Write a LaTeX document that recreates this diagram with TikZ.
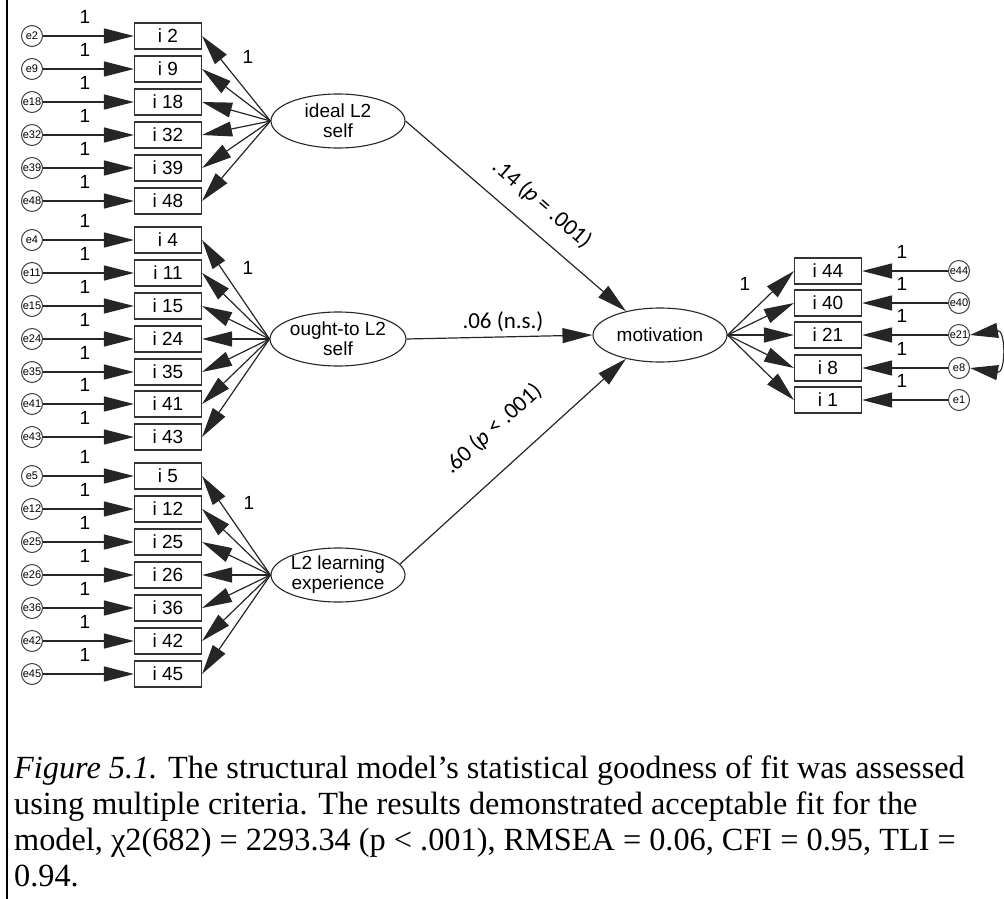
\documentclass[tikz,border=0pt]{standalone}
\usepackage{fontspec}
\setmainfont{Liberation Serif}
\newfontfamily\amosfont{Liberation Sans}
\newfontfamily\coeffont{Carlito}
\usetikzlibrary{arrows.meta,shapes.geometric}

\tikzset{
  itembox/.style={draw=black!80, line width=1.1pt, minimum width=67pt, minimum height=26pt,
    inner sep=0pt, font=\amosfont\fontsize{19}{19}\selectfont},
  errcirc/.style={circle, draw=black!75, line width=1pt, minimum size=21pt, inner sep=0pt,
    font=\amosfont\fontsize{11}{11}\selectfont},
  latent/.style={ellipse, draw=black!85, line width=1.1pt, minimum width=134pt, minimum height=54pt,
    inner sep=0pt, align=center, font=\amosfont\fontsize{19}{20}\selectfont},
  regpath/.style={draw=black!85, line width=1.2pt, -{Triangle[length=30pt,width=15pt]}},
  covpath/.style={draw=black!85, line width=1.1pt,
    {Triangle[length=28pt,width=15pt]}-{Triangle[length=28pt,width=15pt]}},
  weight/.style={font=\amosfont\fontsize{19}{19}\selectfont, inner sep=0pt},
  coef/.style={font=\coeffont\fontsize{23}{23}\selectfont, inner sep=0pt},
  captext/.style={font=\fontsize{32.3}{36}\selectfont, inner sep=0pt, anchor=base west}
}

\begin{document}
\begin{tikzpicture}[x=1pt,y=-1pt]
\useasboundingbox (0,0) rectangle (1004,899);

% frame line on the left
\draw[line width=1.5pt] (7,0) -- (7,899);

% latent factors
\node[latent] (ideal) at (338,121) {ideal L2\\self};
\node[latent] (ought) at (338,339) {ought-to L2\\self};
\node[latent] (exper) at (338,575) {L2 learning\\experience};
\node[latent] (motiv) at (660,335) {motivation};

% indicators of the three predictors with their error terms
\foreach \n/\y in {2/36, 9/69, 18/102, 32/135, 39/168, 48/201,
                   4/240, 11/273, 15/306, 24/339, 35/372, 41/404, 43/437,
                   5/476, 12/509, 25/542, 26/575, 36/608, 42/641, 45/674} {
  \node[errcirc] (e\n) at (32,\y) {e\n};
  \node[itembox] (i\n) at (168,\y) {i \n};
  \draw[regpath] (e\n) -- (i\n);
  \node[weight] (w\n) at (85,\y-19) {1};
}

\foreach \n in {2,9,18,32,39,48} \draw[regpath] (ideal.west) -- (i\n.east);
\foreach \n in {4,11,15,24,35,41,43} \draw[regpath] (ought.west) -- (i\n.east);
\foreach \n in {5,12,25,26,36,42,45} \draw[regpath] (exper.west) -- (i\n.east);

\node[weight] (wideal) at (248,57) {1};
\node[weight] (wought) at (248,268) {1};
\node[weight] (wexper) at (249,503) {1};

% indicators of motivation
\foreach \n/\y in {44/271, 40/303, 21/335, 8/368, 1/400} {
  \node[itembox] (i\n) at (828,\y) {i \n};
  \node[errcirc] (e\n) at (959,\y) {e\n};
  \draw[regpath] (e\n) -- (i\n);
  \draw[regpath] (motiv.east) -- (i\n.west);
  \node[weight] (w\n) at (902,\y-19) {1};
}
\node[weight] (wmotiv) at (745,284) {1};

% correlated errors
\draw[covpath] (e21.east) .. controls (1006,329) and (1006,374) .. (e8.east);

% structural paths
\draw[regpath] (ideal.east) -- (motiv.145);
\draw[regpath] (ought.east) -- (motiv.west);
\draw[regpath] (exper.10) -- (motiv.-145);
\node[coef, rotate=-40.7] (c1) at (542,204) {.14 (\textit{p} = .001)};
\node[coef] (c2) at (503,322) {.06 (n.s.)};
\node[coef, rotate=42] (c3) at (493,429) {.60 (\textit{p} < .001)};

% caption
\node[captext] (cap1) at (14,778) {\textit{Figure 5.1.} The structural model’s statistical goodness of fit was assessed};
\node[captext] (cap2) at (14,814) {using multiple criteria. The results demonstrated acceptable fit for the};
\node[captext] (cap3) at (14,850) {model, χ2(682) = 2293.34 (p < .001), RMSEA = 0.06, CFI = 0.95, TLI =};
\node[captext] (cap4) at (14,886) {0.94.};
\end{tikzpicture}
\end{document}
